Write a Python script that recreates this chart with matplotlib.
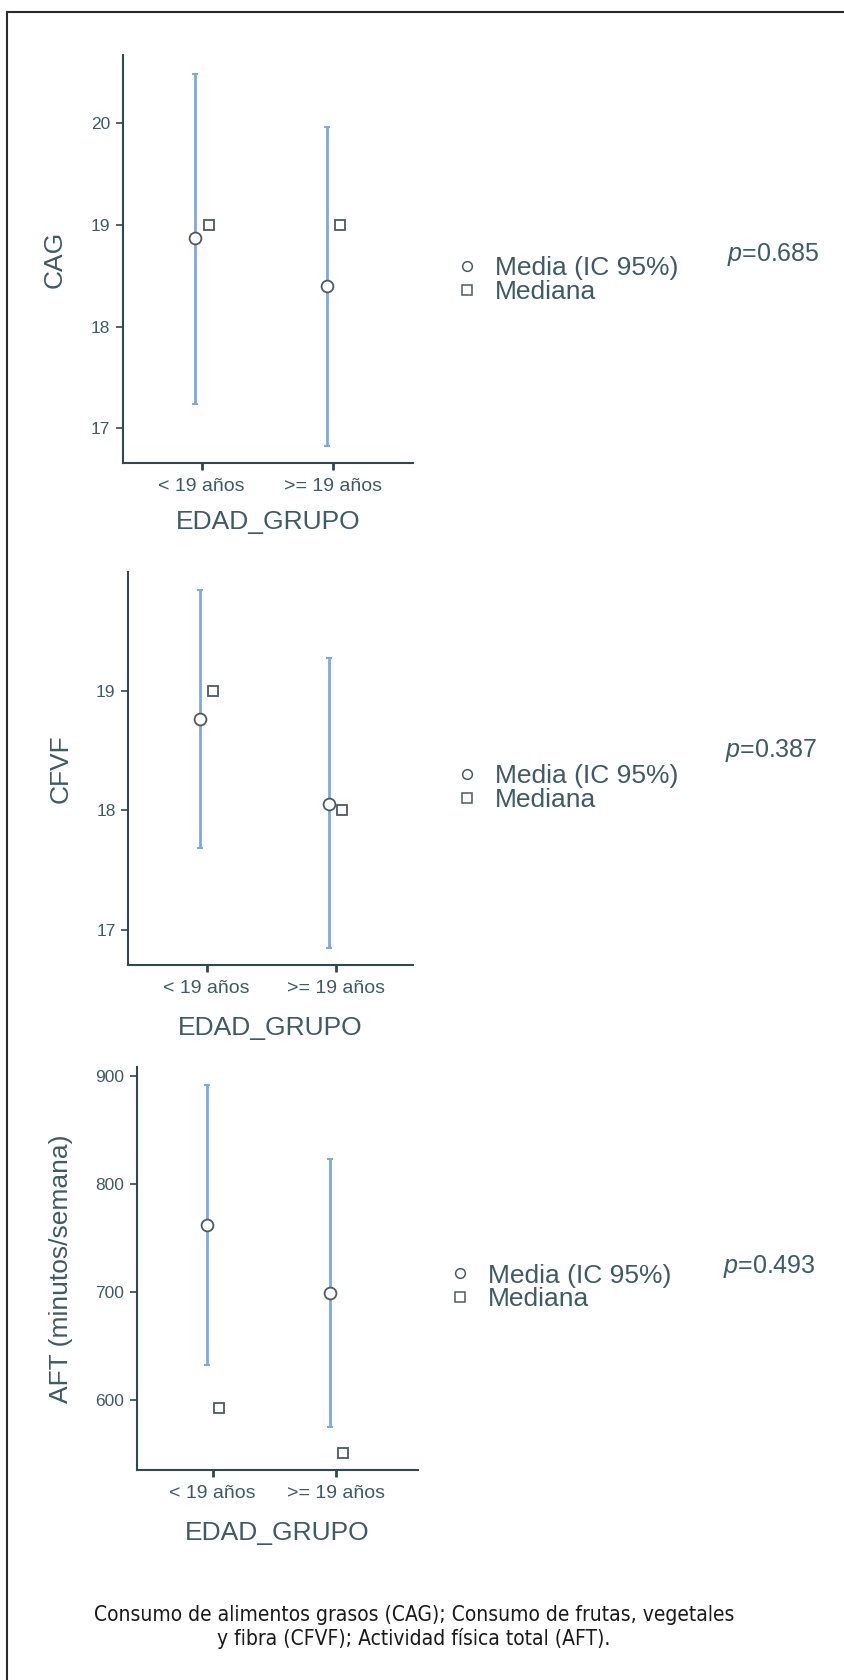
import matplotlib

matplotlib.use("Agg")
import matplotlib.pyplot as plt
from matplotlib.lines import Line2D
from matplotlib.patches import Rectangle

plt.rcParams["font.family"] = ["Liberation Sans", "DejaVu Sans"]
plt.rcParams["mathtext.fontset"] = "custom"
plt.rcParams["mathtext.it"] = "Liberation Sans:italic"
plt.rcParams["mathtext.rm"] = "Liberation Sans"

# data
groups = ["< 19 años", ">= 19 años"]
xlabel = "EDAD_GRUPO"

cag_mean = [18.87, 18.40]
cag_lo = [17.24, 16.83]
cag_hi = [20.48, 19.96]
cag_median = [19.0, 19.0]

cfvf_mean = [18.76, 18.05]
cfvf_lo = [17.69, 16.85]
cfvf_hi = [19.84, 19.27]
cfvf_median = [19.0, 18.0]

aft_mean = [762, 699]
aft_lo = [632, 575]
aft_hi = [891, 823]
aft_median = [592, 551]

ylabels = ["CAG", "CFVF", "AFT (minutos/semana)"]
yticks = [[17, 18, 19, 20], [17, 18, 19], [600, 700, 800, 900]]
ylims = [(16.66, 20.67), (16.71, 19.99), (535, 908)]
p_values = ["0.685", "0.387", "0.493"]
legend_labels = ["Media (IC 95%)", "Mediana"]
caption = ("Consumo de alimentos grasos (CAG); Consumo de frutas, vegetales\n"
           "y fibra (CFVF); Actividad física total (AFT).")

# layout in pixels of the 844x1680 canvas
W, H = 844, 1680
# left, top, right, bottom, ylabel x, xlabel y
boxes = [
    (123, 55, 413, 463, 55, 522),
    (128, 572, 413, 965, 61, 1028),
    (137, 1067, 418, 1470, 61, 1533),
]
xlims = [(-0.6, 1.61), (-0.61, 1.6), (-0.61, 1.66)]
# legend: marker x, row1 y, row2 y ; p text x, y
legend_pos = [(467, 265, 295), (467, 774, 802), (460, 1273, 1302)]
p_pos = [(727, 254), (725, 751), (723, 1267)]

TEXT = "#3f5a62"
AXIS = "#30484e"
BAR = "#7ea8e2"
EDGE = "#4b5b60"
MEAN_OFF = -0.048
MED_OFF = 0.052

fig = plt.figure(figsize=(W / 100, H / 100), dpi=100)

series = [
    (cag_mean, cag_lo, cag_hi, cag_median),
    (cfvf_mean, cfvf_lo, cfvf_hi, cfvf_median),
    (aft_mean, aft_lo, aft_hi, aft_median),
]

for i, (mean, lo, hi, med) in enumerate(series):
    left, top, right, bottom, ylx, xly = boxes[i]
    ax = fig.add_axes([left / W, 1 - bottom / H, (right - left) / W, (bottom - top) / H])
    xs = range(len(groups))
    err = [[m - l for m, l in zip(mean, lo)], [h - m for m, h in zip(mean, hi)]]
    ax.errorbar([x + MEAN_OFF for x in xs], mean, yerr=err, fmt="none",
                ecolor=BAR, elinewidth=2.0, capsize=2, capthick=1.5, zorder=2)
    ax.plot([x + MEAN_OFF for x in xs], mean, "o", ms=8.5, mfc="white",
            mec=EDGE, mew=1.3, zorder=3)
    ax.plot([x + MED_OFF for x in xs], med, "s", ms=6.5, mfc="white",
            mec=EDGE, mew=1.3, zorder=3)

    ax.set_xlim(*xlims[i])
    ax.set_ylim(*ylims[i])
    ax.set_xticks(list(xs))
    ax.set_xticklabels(groups)
    ax.set_yticks(yticks[i])
    for s in ("top", "right"):
        ax.spines[s].set_visible(False)
    for s in ("left", "bottom"):
        ax.spines[s].set_color(AXIS)
        ax.spines[s].set_linewidth(1.5)
    ax.tick_params(axis="y", colors=AXIS, labelcolor=TEXT, labelsize=12.5,
                   length=5, width=1.2, pad=4)
    ax.tick_params(axis="x", colors=AXIS, labelcolor=TEXT, labelsize=14,
                   length=5, width=2, pad=6)

    ax.set_ylabel(ylabels[i], fontsize=19, color=TEXT)
    ax.yaxis.set_label_coords((ylx - left) / (right - left), 0.5)
    ax.set_xlabel(xlabel, fontsize=19, color=TEXT)
    ax.xaxis.set_label_coords(0.5, (bottom - xly) / (bottom - top))
    ax.xaxis.label.set_va("center")
    ax.yaxis.label.set_va("center")

    mx, y1, y2 = legend_pos[i]
    handles = [
        Line2D([], [], ls="none", marker="o", ms=7, mfc="white", mec=EDGE, mew=1.1),
        Line2D([], [], ls="none", marker="s", ms=6.5, mfc="white", mec=EDGE, mew=1.1),
    ]
    fig.legend(handles, legend_labels, loc="center left",
               bbox_to_anchor=((mx - 10.5) / W, 1 - (y1 + y2) / 2 / H),
               frameon=False, fontsize=19, labelcolor=TEXT, handlelength=0.8,
               handletextpad=0.67, labelspacing=0.0, borderpad=0, borderaxespad=0)

    px, py = p_pos[i]
    fig.text(px / W, 1 - py / H, r"$p$=" + p_values[i], fontsize=18,
             color=TEXT, ha="left", va="center")

fig.text(414 / W, 1 - 1627 / H, caption, ha="center", va="center",
         fontsize=15, family="DejaVu Sans", stretch="condensed",
         color="#1a1a1a", linespacing=1.15)

fig.add_artist(Rectangle((7 / W, -0.05), 1.2, 1 - 12 / H + 0.05,
                         transform=fig.transFigure, fill=False,
                         ec="#2a2a2a", lw=1.5))

fig.savefig("out.png", dpi=100)
